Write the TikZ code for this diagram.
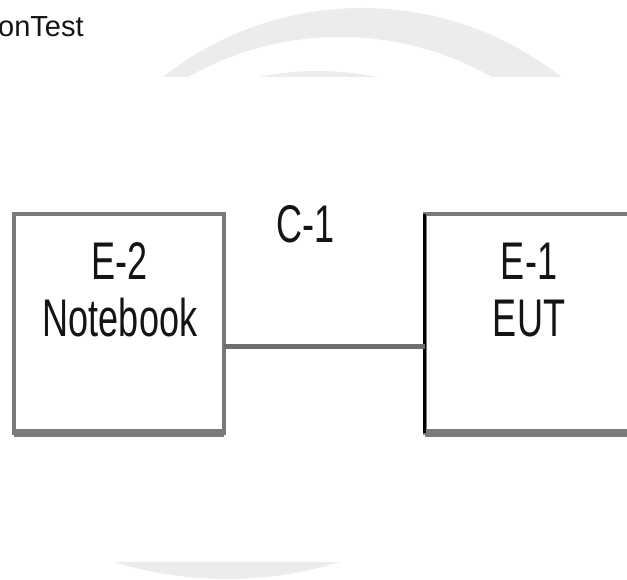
\documentclass[tikz,border=0pt]{standalone}
\usepackage{fontspec}
\setmainfont{Liberation Sans}
\newfontfamily\narrowfont[FakeStretch=0.68]{Liberation Sans}
\definecolor{wm}{RGB}{236,236,236}
\definecolor{edgegray}{RGB}{122,122,122}
\definecolor{conngray}{RGB}{110,110,110}
\definecolor{txt}{RGB}{20,20,20}
\tikzset{
  box/.style={draw=edgegray, line width=4pt, inner sep=0pt, outer sep=0pt},
  lbl/.style={font=\narrowfont\fontsize{53}{60}\selectfont, text=txt, inner sep=0pt, anchor=base},
  conn/.style={draw=conngray, line width=5pt},
  bottomedge/.style={draw=edgegray, line width=8pt},
}
\begin{document}
\begin{tikzpicture}[x=1pt,y=-1pt]
\useasboundingbox (0,0) rectangle (627,580);
% watermark (partly hidden)
\begin{scope}
  \clip (0,0) rectangle (627,77);
  \fill[wm, even odd rule] (362,330) circle[radius=322pt] (340,346) circle[radius=309pt];
  \fill[wm] (318,359) circle[radius=288pt];
\end{scope}
\begin{scope}
  \clip (0,562) rectangle (627,580);
  \fill[wm] (227,198) circle[radius=381pt];
\end{scope}
% header text
\node[anchor=base west, inner sep=0pt, text=txt, font=\fontsize{29}{34}\selectfont] (hdr) at (-2,37) {onTest};
% boxes
\node[box, minimum width=210pt, minimum height=219pt] (nb) at (119,323.5) {};
\node[box, minimum width=240pt, minimum height=219pt] (eut) at (544.5,323.5) {};
\draw[bottomedge] (nb.south west) -- (nb.south east);
\draw[bottomedge] (eut.south west) -- (eut.south east);
\draw[black, line width=3pt] (eut.north west) -- (eut.south west);
% connector
\draw[conn] ([yshift=-22.5pt]nb.east) -- ([yshift=-22.5pt]eut.west);
% labels
\node[lbl] (e2) at (120,280) {E-2};
\node[lbl] (nbt) at (120,337) {Notebook};
\node[lbl] (e1) at (529,280) {E-1};
\node[lbl] (eutt) at (529,337) {EUT};
\node[lbl] (c1) at (306,243) {C-1};
\end{tikzpicture}
\end{document}
